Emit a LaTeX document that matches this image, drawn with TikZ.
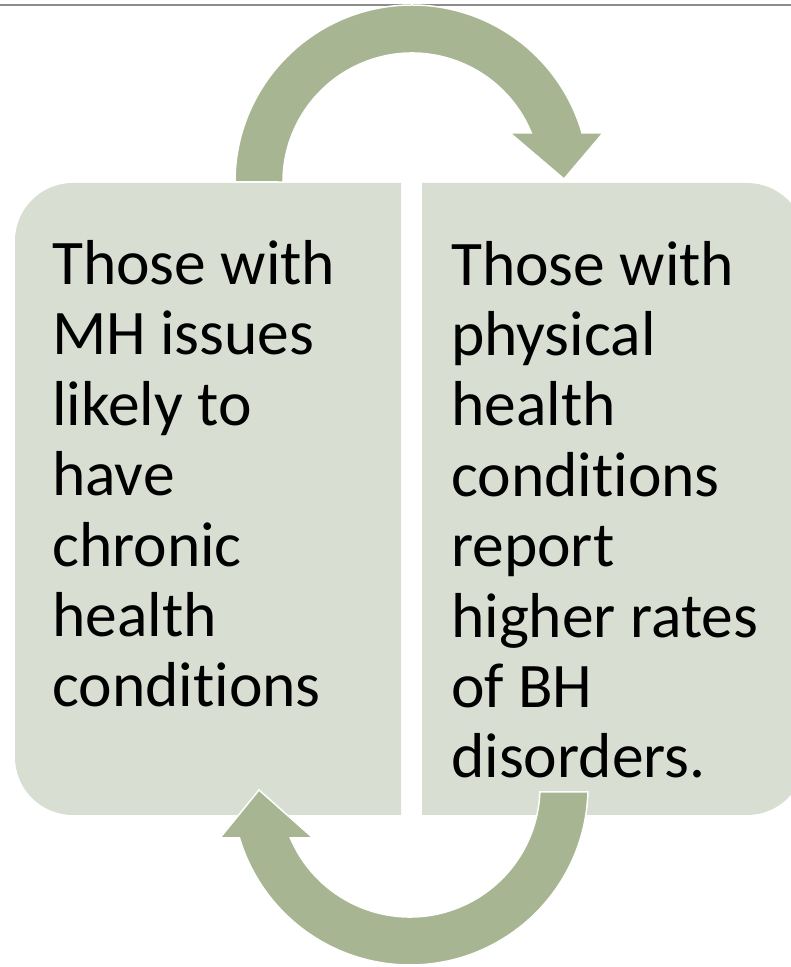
\documentclass[tikz,border=0pt]{standalone}
\usepackage{fontspec}
\setmainfont{Carlito}[Ligatures=NoCommon]
\definecolor{panelgreen}{RGB}{217,222,211}
\definecolor{arrowgreen}{RGB}{167,181,146}
\begin{document}
\begin{tikzpicture}
	 [x=1pt,y=1pt,
	  panel/.style={fill=panelgreen},
	  bentarrow/.style={fill=arrowgreen,draw=white,line width=1.5pt},
	  every node/.style={align=left,inner sep=0pt,font=\fontsize{63.5}{70.4}\selectfont}]
	\useasboundingbox (0,0) rectangle (791,967);
	\clip (0,0) rectangle (791,967);

	% rule along the top
	\draw[black!45,line width=2pt] (0,962) -- (791,962);

	% the two panels
	\fill[panel] (401,152) -- (401,784) -- (73,784) arc[start angle=90,end angle=180,radius=58]
	  -- (15,210) arc[start angle=180,end angle=270,radius=58] -- cycle;
	\fill[panel] (422,152) -- (422,784) -- (747,784) arc[start angle=90,end angle=0,radius=58]
	  -- (805,210) arc[start angle=0,end angle=-90,radius=58] -- cycle;

	  \coordinate (up) at (412,785);
	  \coordinate (down) at (410,180);

	% arrow over the top, left to right
	\filldraw[bentarrow] (up) ++(180:177) arc[start angle=180,end angle=16.07,radius=177]
	  -- (603,834) -- (564,788) -- (510,834) -- (531.3,834)
	  arc[start angle=22.33,end angle=180,radius=129] -- cycle;

	% arrow under the bottom, right to left
	\filldraw[bentarrow] (down) ++(-1.61:178) arc[start angle=-1.61,end angle=-163.35,radius=178]
	  -- (220,129) -- (259,177) -- (313,129) -- (290.4,129)
	  arc[start angle=-156.9,end angle=-2.2,radius=130] -- cycle;

	% base anchor sits on the last line
	  \node (mh)[anchor=base west] at (52,260) {Those with\\MH issues\\likely to\\have\\chronic\\health\\conditions};
	  \node (ph)[anchor=base west] at (451,189) {Those with\\physical\\health\\conditions\\report\\higher rates\\of BH\\disorders.};

\end{tikzpicture}
\end{document}
